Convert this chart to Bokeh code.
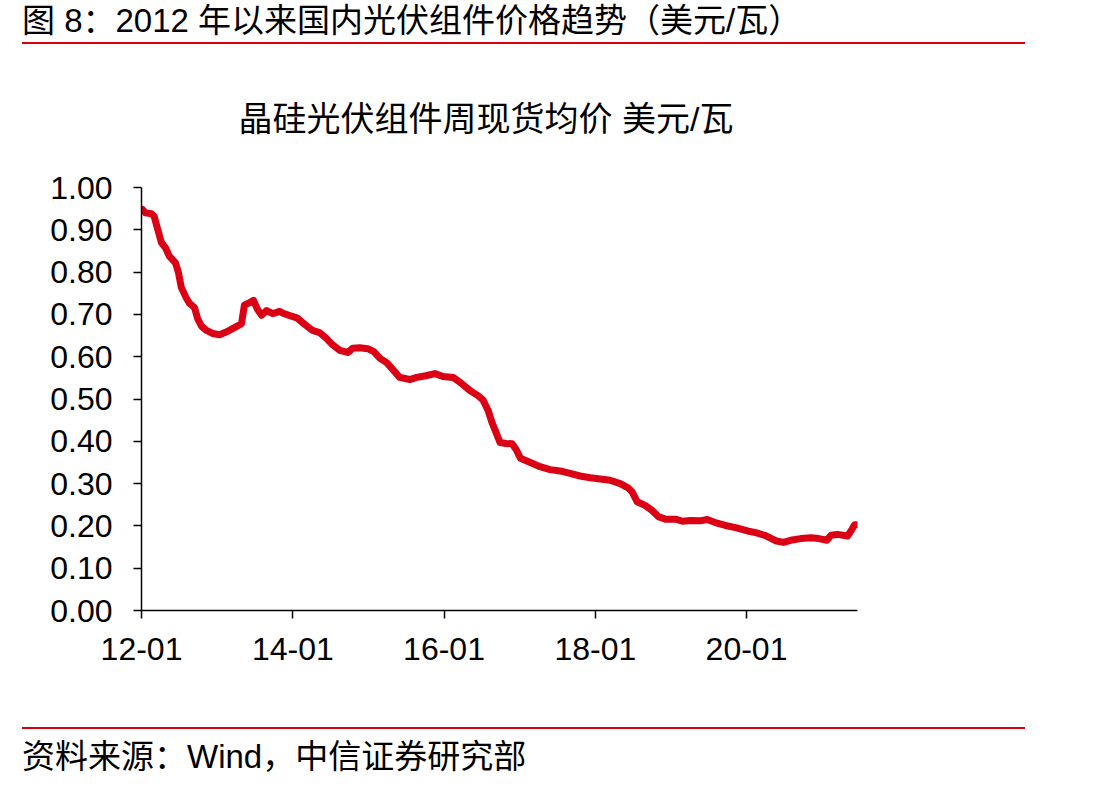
import pandas as pd
from bokeh.plotting import figure
from bokeh.layouts import column
from bokeh.models import (Div, Range1d, FixedTicker, DatetimeTickFormatter,
                          NumeralTickFormatter, ColumnDataSource)
from bokeh.embed import file_html
from bokeh.resources import INLINE

# ---------------- data ----------------
header_text = "图 8：2012 年以来国内光伏组件价格趋势（美元/瓦）"
chart_title = "晶硅光伏组件周现货均价 美元/瓦"
source_text = "资料来源：Wind，中信证券研究部"

dates = [
    "2012-01-06", "2012-01-20", "2012-02-18", "2012-03-02", "2012-03-17", "2012-04-06",
    "2012-04-25", "2012-05-14", "2012-06-13", "2012-06-27", "2012-07-11", "2012-08-01",
    "2012-08-20", "2012-09-13", "2012-09-28", "2012-10-17", "2012-11-10", "2012-12-09",
    "2013-01-13", "2013-02-21", "2013-03-29", "2013-04-28", "2013-05-12", "2013-06-06",
    "2013-06-25", "2013-07-14", "2013-08-03", "2013-08-27", "2013-09-26", "2013-10-29",
    "2013-11-18", "2013-12-17", "2014-01-20", "2014-02-28", "2014-04-06", "2014-05-10",
    "2014-06-08", "2014-07-12", "2014-08-15", "2014-09-23", "2014-10-17", "2014-11-20",
    "2014-12-29", "2015-01-27", "2015-02-26", "2015-03-30", "2015-04-28", "2015-06-01",
    "2015-07-19", "2015-08-22", "2015-10-05", "2015-11-18", "2015-12-27", "2016-02-14",
    "2016-03-22", "2016-05-05", "2016-06-13", "2016-07-07", "2016-08-01", "2016-08-20",
    "2016-09-09", "2016-09-28", "2016-10-27", "2016-11-25", "2016-12-15", "2017-01-04",
    "2017-02-21", "2017-04-09", "2017-05-27", "2017-07-14", "2017-09-01", "2017-10-19",
    "2017-12-07", "2018-01-25", "2018-03-13", "2018-05-01", "2018-06-08", "2018-06-28",
    "2018-07-22", "2018-08-31", "2018-10-03", "2018-11-01", "2018-12-05", "2019-01-23",
    "2019-02-26", "2019-04-04", "2019-05-22", "2019-06-25", "2019-08-03", "2019-09-21",
    "2019-11-09", "2020-01-06", "2020-02-14", "2020-04-02", "2020-05-20", "2020-06-28",
    "2020-08-01", "2020-09-19", "2020-11-06", "2020-12-15", "2021-01-23", "2021-02-12",
    "2021-03-16", "2021-05-03", "2021-05-22", "2021-06-06", "2021-06-24",
]
prices = [
    0.948, 0.940, 0.938, 0.932, 0.905, 0.870,
    0.858, 0.838, 0.822, 0.800, 0.764, 0.742,
    0.726, 0.716, 0.690, 0.672, 0.662, 0.655,
    0.652, 0.660, 0.670, 0.678, 0.722, 0.728,
    0.733, 0.712, 0.698, 0.709, 0.702, 0.707,
    0.702, 0.697, 0.692, 0.676, 0.662, 0.657,
    0.645, 0.628, 0.615, 0.610, 0.620, 0.621,
    0.619, 0.612, 0.596, 0.586, 0.570, 0.551,
    0.546, 0.551, 0.555, 0.560, 0.553, 0.551,
    0.538, 0.520, 0.508, 0.498, 0.473, 0.444,
    0.420, 0.397, 0.395, 0.394, 0.380, 0.360,
    0.350, 0.340, 0.333, 0.330, 0.324, 0.318,
    0.314, 0.311, 0.308, 0.300, 0.290, 0.280,
    0.257, 0.248, 0.236, 0.222, 0.216, 0.216,
    0.211, 0.213, 0.212, 0.215, 0.208, 0.201,
    0.196, 0.188, 0.184, 0.177, 0.165, 0.161,
    0.166, 0.170, 0.172, 0.170, 0.166, 0.178,
    0.180, 0.176, 0.190, 0.203, 0.203,
]
x_tick_labels = ["12-01", "14-01", "16-01", "18-01", "20-01"]
y_ticks = [0.0, 0.1, 0.2, 0.3, 0.4, 0.5, 0.6, 0.7, 0.8, 0.9, 1.0]

# ---------------- styles ----------------
RED = "#d7000f"
LINE_RED = "#dc0014"
FONT = "'Liberation Sans', 'Noto Sans CJK SC'"

src = ColumnDataSource(dict(date=pd.to_datetime(dates), price=prices))
tick_ms = [pd.Timestamp("20" + t + "-01").value / 1e6 for t in x_tick_labels]

p = figure(width=1095, height=676, x_axis_type="datetime",
           output_backend="svg", toolbar_location=None,
           min_border_left=141, min_border_right=238,
           min_border_top=143, min_border_bottom=110,
           x_range=Range1d(pd.Timestamp("2012-01-01"), pd.Timestamp("2021-06-20")),
           y_range=Range1d(0, 1.0))
p.outline_line_color = None
p.xgrid.visible = False
p.ygrid.visible = False

p.title.text = chart_title
p.title.text_font = FONT
p.title.text_font_size = "34px"
p.title.text_font_style = "normal"
p.title.text_color = "#000000"
p.title.align = "left"
p.title.offset = 97
p.title.standoff = 100

p.line("date", "price", source=src, line_width=7, line_color=LINE_RED,
       line_join="round", line_cap="round")

for ax in (p.xaxis[0], p.yaxis[0]):
    ax.axis_line_color = "black"
    ax.axis_line_width = 1.5
    ax.major_tick_line_color = "black"
    ax.major_tick_line_width = 1.5
    ax.major_tick_in = 0
    ax.major_tick_out = 8
    ax.minor_tick_line_color = None
    ax.major_label_text_font = "Liberation Sans"
    ax.major_label_text_font_size = "32px"
    ax.major_label_text_color = "black"

p.xaxis[0].ticker = FixedTicker(ticks=tick_ms)
fmt = "%y-%m"
p.xaxis[0].formatter = DatetimeTickFormatter(
    milliseconds=fmt, seconds=fmt, minsec=fmt, minutes=fmt, hourmin=fmt,
    hours=fmt, days=fmt, months=fmt, years=fmt)
p.xaxis[0].major_label_standoff = 19

p.yaxis[0].ticker = FixedTicker(ticks=y_ticks)
p.yaxis[0].formatter = NumeralTickFormatter(format="0.00")
p.yaxis[0].major_label_standoff = 21

header = Div(width=1095, height=44, margin=0, text=f"""
<div style="position:relative;width:1095px;height:44px;">
  <div style="position:absolute;left:22px;top:2px;white-space:nowrap;font-family:{FONT};font-size:33px;line-height:38px;color:#000;">{header_text}</div>
  <div style="position:absolute;left:22px;top:42px;width:1003px;height:2px;background:{RED};"></div>
</div>""")

footer = Div(width=1095, height=69, margin=0, text=f"""
<div style="position:relative;width:1095px;height:69px;">
  <div style="position:absolute;left:22px;top:7px;width:1003px;height:2px;background:{RED};"></div>
  <div style="position:absolute;left:22px;top:18px;white-space:nowrap;font-family:{FONT};font-size:33px;line-height:38px;color:#000;">{source_text}</div>
</div>""")

layout = column(header, p, footer, spacing=0, margin=0)
open("out.html", "w").write(file_html(layout, INLINE))
